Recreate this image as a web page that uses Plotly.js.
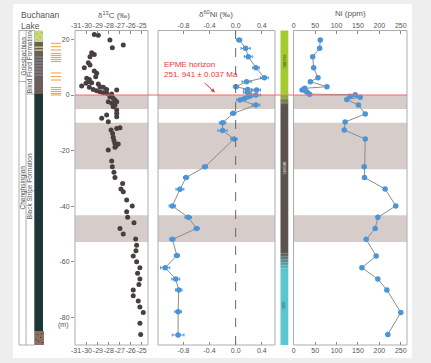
<!DOCTYPE html>
<html>
<head>
<meta charset="utf-8">
<script src="https://cdn.plot.ly/plotly-3.0.1.min.js"></script>
<style>html,body{margin:0;padding:0;background:#eeeeee;}#chart{width:431px;height:363px;}</style>
</head>
<body>
<div id="chart"></div>
<script>
// ---------- DATA ----------
// δ13C (‰) and depth (m)
const c13Values = [-29.33,-28.96,-27.9,-26.68,-27.68,-29.57,-29.33,-29.72,-29.87,-29.72,-30.24,-29.33,-29.11,-29.2,-30.02,-29.78,-29.87,-30.09,-29.57,-28.96,-30.48,-28.81,-28.5,-29.78,-28.2,-29.42,-27.28,-29.11,-28.81,-28.5,-28.2,-27.74,-27.9,-27.6,-27.44,-27.28,-28.05,-27.74,-27.44,-27.6,-27.28,-27.28,-28.2,-27.28,-28.65,-28.05,-27.28,-26.98,-27.8,-27.65,-27.6,-27.53,-27.44,-27.14,-27.35,-27.44,-28.05,-27.74,-27.68,-27.53,-27.44,-26.74,-26.89,-26.68,-26.37,-25.86,-26.37,-26.28,-25.7,-26.98,-26.68,-25.55,-25.46,-25.52,-25.77,-25.46,-25.16,-25.37,-25.16,-25.25,-25.77,-25.77,-25.31,-25.16,-24.85,-25.16,-25.09];
const c13Depth = [21.8,21.5,19.8,18.0,17.0,15.2,14.6,13.8,11.6,10.8,9.8,8.6,7.8,6.6,6.0,5.6,4.8,4.2,4.4,4.0,3.2,3.0,2.8,2.8,2.0,2.0,1.8,1.5,1.2,0.8,0.6,0.4,-0.6,-1.2,-1.8,-2.4,-2.4,-3.0,-3.6,-4.2,-5.4,-6.6,-7.2,-7.8,-8.4,-9.6,-12.0,-11.8,-12.6,-13.8,-15.2,-16.4,-17.4,-17.6,-18.3,-18.8,-19.8,-23.7,-25.8,-27.8,-29.7,-31.8,-33.8,-34.8,-37.8,-39.9,-42.0,-44.0,-45.9,-48.0,-50.0,-51.8,-54.0,-56.0,-57.9,-60.0,-62.1,-64.1,-66.2,-68.1,-70.1,-72.2,-74.1,-76.2,-78.2,-82.1,-86.1];

// δ60Ni (‰), 2SD and depth (m)
const ni60Values = [0.055,0.153,0.193,0.311,0.44,0.168,0.005,0.184,0.322,0.178,0.311,0.219,0.143,0.066,0.311,-0.037,-0.2,-0.2,-0.026,-0.47,-0.76,-0.854,-0.97,-0.727,-0.598,-0.97,-0.9,-1.08,-0.918,-0.872,-0.882,-0.882];
const ni60Err    = [0.04,0.07,0.06,0.05,0.06,0.07,0.04,0.06,0.06,0.06,0.07,0.05,0.05,0.05,0.06,0.04,0.05,0.07,0.05,0.04,0.04,0.06,0.05,0.05,0.04,0.04,0.04,0.07,0.06,0.05,0.05,0.09];
const ni60Depth  = [19.8,16.8,13.8,9.8,6.2,4.8,3.0,2.0,1.8,1.0,0.0,-0.4,-1.2,-1.8,-3.6,-6.6,-10.0,-12.8,-15.8,-25.8,-29.7,-33.9,-39.9,-44.0,-48.0,-51.9,-57.7,-62.1,-66.2,-70.1,-77.9,-86.3];

// Ni (ppm) and depth (m)
const niValues = [62,60.6,44.3,46.6,56.7,38.9,77.6,25.6,19.5,28,32,37.2,143.6,132,155,124,151,167,120,118,167,164.6,165.3,213.4,238.3,196.4,190.2,169.2,192.5,159.2,196.4,217.4,250,219.7];
const niDepth  = [19.8,16.8,13.8,9.8,6.2,4.8,3.0,2.4,1.8,1.4,0.9,0.3,0.1,-0.4,-0.8,-1.6,-3.6,-6.8,-9.7,-12.6,-15.8,-25.8,-29.7,-33.8,-39.9,-44.0,-48.0,-51.9,-57.9,-62.1,-66.2,-70.1,-78.2,-86.1];

// Shaded intervals (depth top, depth bottom)
const bandTops    = [0, -10, -43.2];
const bandBottoms = [-5, -26.7, -52.9];

// Tick labels
const c13Ticks = [-31,-30,-29,-28,-27,-26,-25];
const c13TickText = ['-31','-30','-29','-28','-27','-26','-25'];
const ni60Ticks = [-1.2,-0.8,-0.4,0,0.4];
const ni60TickText = ['-1.2','-0.8','-0.4','0.0','0.4'];
const niTicks = [0,50,100,150,200,250];
const niTickText = ['0','50','100','150','200','250'];
const depthTicks = [20,0,-20,-40,-60,-80];
const depthTickText = ['20','0','-20','-40','-60','-80'];

// Redox labels on the colour bar
const redoxLabels = ['euxinic','anoxic','oxic'];

// ---------- LAYOUT HELPERS ----------
const W = 431, H = 363;
const PX = p => p / W;
const PY = p => 1 - p / H;
const grey = '#555555';
const FONT = 'Liberation Sans, Arial, sans-serif';

const shapes = [];
const annotations = [];

// white card
shapes.push({type:'rect', xref:'paper', yref:'paper', x0:PX(13), x1:PX(412), y0:PY(358), y1:PY(4), fillcolor:'#ffffff', line:{width:0}, layer:'below'});

// shaded intervals in each panel
['x domain','x2 domain','x3 domain'].forEach(xr => {
  for (let i = 0; i < bandTops.length; i++) {
    shapes.push({type:'rect', xref:xr, yref:'y', x0:0, x1:1, y0:bandBottoms[i], y1:bandTops[i], fillcolor:'#d6cdca', line:{width:0}, layer:'below'});
  }
});

// panel boxes
['x domain','x2 domain','x3 domain'].forEach(xr => {
  shapes.push({type:'rect', xref:xr, yref:'y domain', x0:0, x1:1, y0:0, y1:1, line:{color:'#a8adb3', width:1}, fillcolor:'rgba(0,0,0,0)', layer:'above'});
});

// zero dashed line in δ60Ni
shapes.push({type:'line', xref:'x2', yref:'y domain', x0:0, x1:0, y0:0, y1:1, line:{color:'#666', width:1, dash:'dash'}, layer:'above'});

// EPME horizon line
shapes.push({type:'line', xref:'paper', yref:'y', x0:PX(75), x1:PX(407), y0:0, y1:0, line:{color:'#ee6a6a', width:1}, layer:'above'});

// ---------- stratigraphic column ----------
const colLine = {color:'#9a9a9a', width:0.8};
function prect(x0,y0,x1,y1,fill,line){ shapes.push({type:'rect', xref:'paper', yref:'paper', x0:PX(x0), x1:PX(x1), y0:PY(y1), y1:PY(y0), fillcolor:fill, line: line || {width:0}, layer:'above'}); }
function pline(x0,y0,x1,y1,color,w){ shapes.push({type:'line', xref:'paper', yref:'paper', x0:PX(x0), x1:PX(x1), y0:PY(y0), y1:PY(y1), line:{color:color, width:w}, layer:'above'}); }

prect(19,30.5,34.5,345,'rgba(0,0,0,0)',colLine);
pline(26,30.5,26,345,'#9a9a9a',0.8);
pline(19,81.5,26,81.5,'#9a9a9a',0.8);
pline(26,94,34.5,94,'#9a9a9a',0.8);
// lithology
prect(34.5,30.5,43,42,'#c9d97a');
prect(34.5,42,43,94,'#6d5d58');
[46.5,49.5].forEach(y => prect(34.5,y,43,y+1.3,'#c9d97a'));
[57,60,63,66,69,72,75].forEach(y => pline(34.5,y,43,y,'#8d9bb0',0.8));
prect(34.5,94,43,331,'#1f3636');
prect(34.5,331,44,345,'#8a6f62');
[[37,334],[40,337],[38,341],[41,333],[36,339],[42,342]].forEach(p => prect(p[0],p[1],p[0]+0.9,p[1]+0.9,'#3a2a22'));
// pattern in top green block
[[36,33],[39,36],[37,39],[41,32]].forEach(p => pline(p[0],p[1],p[0]+2,p[1]+2,'#8ea040',0.6));

// orange marks
const orangeY = [43.3,46.7,50, 53.5,55.5,57.5,59.5,61.5, 73,76.5,80, 87.5,89.5,91.5,93.5,95];
orangeY.forEach(y => pline(51,y,61,y,'#f4a34a',1.1));

// colour bar (redox)
function mix(a,b,t){ const pa=[1,3,5].map(i=>parseInt(a.substr(i,2),16)); const pb=[1,3,5].map(i=>parseInt(b.substr(i,2),16)); return 'rgb('+pa.map((v,i)=>Math.round(v+(pb[i]-v)*t)).join(',')+')'; }
const cbL = 280.5, cbR = 288.3;
prect(cbL,30.5,cbR,92,'#a6cb2f');
for (let i=0;i<10;i++){ const y0=92+i*1.3; prect(cbL,y0,cbR,y0+1.4,mix('#a6cb2f','#5c5250',(i+0.5)/10)); }
prect(cbL,105,cbR,252,'#5c5250');
for (let i=0;i<12;i++){ const y0=252+i*1.5; prect(cbL,y0,cbR,y0+1.6,mix('#5c5250','#5bc6d0',(i+0.5)/12)); }
prect(cbL,270,cbR,345,'#5bc6d0');

// ---------- ANNOTATIONS ----------
function ann(text,x,y,opts){ annotations.push(Object.assign({text:text, xref:'paper', yref:'paper', x:PX(x), y:PY(y), xanchor:'center', yanchor:'middle', showarrow:false, font:{family:FONT, size:8, color:grey}}, opts||{})); }
ann('Buchanan<br>Lake', 19, 20, {xanchor:'left', align:'left', font:{family:FONT,size:8.5,color:grey}});
ann('δ<sup>13</sup>C (‰)', 114, 15, {font:{family:FONT,size:8,color:grey}});
ann('δ<sup>60</sup>Ni (‰)', 216, 14, {font:{family:FONT,size:8,color:grey}});
ann('Ni (ppm)', 350, 14, {font:{family:FONT,size:8,color:grey}});
ann('(m)', 71, 325, {xanchor:'right', font:{family:FONT,size:7,color:grey}});
ann('Griesbachian', 22.5, 56, {textangle:-90, font:{family:FONT,size:6.5,color:grey}});
ann('Blind Fiord Formation', 30.2, 62, {textangle:-90, font:{family:FONT,size:6.5,color:grey}});
ann('Changhsingian', 22.5, 188, {textangle:-90, font:{family:FONT,size:6.5,color:grey}});
ann('Black Stripe Formation', 30.2, 186, {textangle:-90, font:{family:FONT,size:6.5,color:grey}});
ann('EPME horizon<br>251. 941 ± 0.037 Ma', 162, 69, {xanchor:'left', align:'left', font:{family:FONT,size:8,color:'#e5383f'}});
annotations.push({text:'', xref:'paper', yref:'paper', x:PX(215), y:PY(92.5), ax:-12, ay:-11, showarrow:true, arrowhead:2, arrowsize:0.8, arrowwidth:1, arrowcolor:'#e5383f'});
ann(redoxLabels[0], 284.4, 62, {textangle:90, font:{family:FONT,size:4.5,color:'#4a5a20'}});
ann(redoxLabels[1], 284.4, 169, {textangle:90, font:{family:FONT,size:4.5,color:'#dddddd'}});
ann(redoxLabels[2], 284.4, 306, {textangle:90, font:{family:FONT,size:4.5,color:'#2f5f66'}});

// ---------- AXES ----------
const tickFont = {family:FONT, size:7, color:grey};
function xax(domain, range, vals, text, side, overlay){
  const a = {domain:domain, range:range, tickvals:vals, ticktext:text, tickangle:0, ticks:'inside', ticklen:3, tickcolor:'#888', showline:false, showgrid:false, zeroline:false, tickfont:tickFont, side:side, anchor:'y', fixedrange:true};
  if (overlay) a.overlaying = overlay;
  return a;
}
const d1 = [PX(75), PX(148)], d2 = [PX(158), PX(275)], d3 = [PX(293.5), PX(407)];
const r1 = [-31.09, -24.42], r2 = [-1.19, 0.603], r3 = [-0.5, 264.5];

const layout = {
  width: W, height: H,
  margin: {l:0, r:0, t:0, b:0},
  paper_bgcolor: '#eeeeee',
  plot_bgcolor: 'rgba(0,0,0,0)',
  showlegend: false,
  font: {family: FONT},
  xaxis:  xax(d1, r1, c13Ticks, c13TickText, 'bottom'),
  xaxis2: xax(d2, r2, ni60Ticks, ni60TickText, 'bottom'),
  xaxis3: xax(d3, r3, niTicks, niTickText, 'bottom'),
  xaxis4: xax(d1, r1, c13Ticks, c13TickText, 'top', 'x'),
  xaxis5: xax(d2, r2, ni60Ticks, ni60TickText, 'top', 'x2'),
  xaxis6: xax(d3, r3, niTicks, niTickText, 'top', 'x3'),
  yaxis: {domain:[PY(345), PY(30.5)], range:[-89.9, 23.2], tickvals:depthTicks, ticktext:depthTickText, ticks:'outside', ticklen:3, tickcolor:'#888', showline:false, showgrid:false, zeroline:false, tickfont:tickFont, anchor:'x', fixedrange:true},
  shapes: shapes,
  annotations: annotations
};

const traces = [
  {type:'scatter', mode:'markers', x:c13Values, y:c13Depth, xaxis:'x', yaxis:'y', marker:{color:'#4a3f3f', size:5}, hoverinfo:'skip'},
  {type:'scatter', mode:'lines+markers', x:ni60Values, y:ni60Depth, xaxis:'x2', yaxis:'y', line:{color:'#8c8c8c', width:1}, marker:{color:'#4a94d8', size:5.5}, error_x:{type:'data', array:ni60Err, color:'#4a94d8', thickness:1, width:1.5}, hoverinfo:'skip'},
  {type:'scatter', mode:'lines+markers', x:niValues, y:niDepth, xaxis:'x3', yaxis:'y', line:{color:'#8c8c8c', width:1}, marker:{color:'#4a94d8', size:5.5}, hoverinfo:'skip'},
  {type:'scatter', mode:'markers', x:[null], y:[null], xaxis:'x4', yaxis:'y', hoverinfo:'skip'},
  {type:'scatter', mode:'markers', x:[null], y:[null], xaxis:'x5', yaxis:'y', hoverinfo:'skip'},
  {type:'scatter', mode:'markers', x:[null], y:[null], xaxis:'x6', yaxis:'y', hoverinfo:'skip'}
];

Plotly.newPlot('chart', traces, layout, {staticPlot:true, displayModeBar:false});
</script>
</body>
</html>
